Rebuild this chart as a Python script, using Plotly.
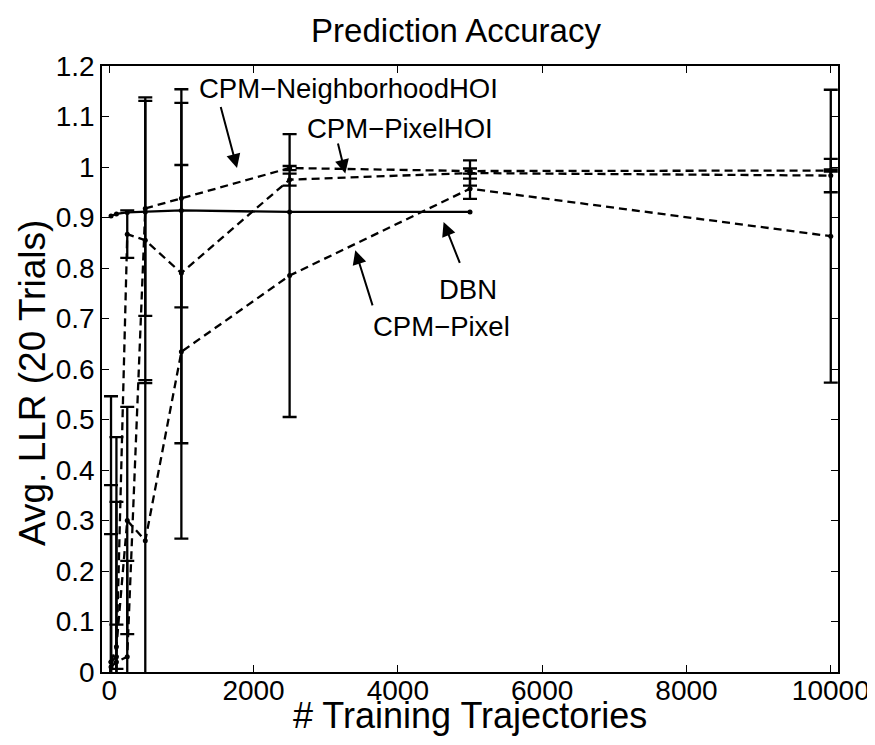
import plotly.graph_objects as go

# ---- data ----
x_pts = [25, 100, 250, 500, 1000, 2500, 5000, 10000]

dbn_x = [25, 100, 250, 500, 1000, 2500, 5000]
dbn_y = [0.903, 0.907, 0.910, 0.911, 0.914, 0.911, 0.911]

nhoi_y = [0.01, 0.02, 0.03, 0.918, 0.938, 0.998, 0.992, 0.993]
nhoi_err = [0.36, 0.317, 0.19, 0.213, 0.216, 0.004, 0.005, 0.002]

phoi_y = [0.02, 0.03, 0.867, 0.855, 0.79, 0.975, 0.988, 0.983]
phoi_err = [0.253, 0.435, 0.047, 0.283, 0.337, 0.012, 0.025, 0.033]

pix_y = [0.02, 0.05, 0.30, 0.26, 0.634, 0.785, 0.957, 0.863]
pix_err = [0.526, 0.044, 0.225, 0.318, 0.37, 0.28, 0.02, 0.29]

x_ticks = [0, 2000, 4000, 6000, 8000, 10000]
x_ticklabels = ["0", "2000", "4000", "6000", "8000", "10000"]
y_ticks = [0, 0.1, 0.2, 0.3, 0.4, 0.5, 0.6, 0.7, 0.8, 0.9, 1.0, 1.1, 1.2]
y_ticklabels = ["0", "0.1", "0.2", "0.3", "0.4", "0.5", "0.6", "0.7", "0.8", "0.9", "1", "1.1", "1.2"]

labels = ["CPM\u2212NeighborhoodHOI", "CPM\u2212PixelHOI", "DBN", "CPM\u2212Pixel"]
label_pos = [(3313, 1.156), (4034, 1.076), (4976, 0.758), (4602, 0.684)]
arrow_tail = [(1540, 1.122), (3165, 1.0495), (4867, 0.807), (3656, 0.723)]
arrow_head = [(1771, 0.998), (3272, 0.987), (4634, 0.891), (3410, 0.835)]

FONT = "Liberation Sans, Arial, Helvetica, sans-serif"

# page body has an 8px default margin: figure is sized/offset to compensate
W, H = 867, 737

fig = go.Figure()

def add_series(xs, ys, errs, dash):
    tr = dict(
        x=xs, y=ys, mode="lines+markers",
        line=dict(color="black", width=2.3, dash=dash),
        marker=dict(color="black", size=5),
        showlegend=False,
    )
    if errs is not None:
        tr["error_y"] = dict(type="data", array=errs, visible=True,
                             color="black", thickness=2.3, width=7)
    fig.add_trace(go.Scatter(**tr))

add_series(x_pts, pix_y, pix_err, "8px,5px")
add_series(x_pts, phoi_y, phoi_err, "8px,5px")
add_series(x_pts, nhoi_y, nhoi_err, "8px,5px")
add_series(dbn_x, dbn_y, None, "solid")

annotations = []
for (tx, ty), (hx, hy) in zip(arrow_tail, arrow_head):
    annotations.append(dict(
        x=hx, y=hy, ax=tx, ay=ty, xref="x", yref="y", axref="x", ayref="y",
        text="", showarrow=True, arrowhead=2, arrowsize=1.4, arrowwidth=2,
        arrowcolor="black", standoff=0, startstandoff=0,
    ))
for txt, (px, py) in zip(labels, label_pos):
    annotations.append(dict(
        x=px, y=py, xref="x", yref="y", text=txt, showarrow=False,
        font=dict(family=FONT, size=27.5, color="black"),
        xanchor="center", yanchor="middle",
    ))
# axis titles
annotations.append(dict(
    x=0.5, y=(672 - 715) / 606, xref="paper", yref="paper",
    text="# Training Trajectories", showarrow=False,
    font=dict(family=FONT, size=36, color="black"),
    xanchor="center", yanchor="middle",
))
annotations.append(dict(
    x=(33 - 102) / 736, y=(672 - 383) / 606, xref="paper", yref="paper",
    text="Avg. LLR (20 Trials)", showarrow=False, textangle=-90,
    font=dict(family=FONT, size=37, color="black"),
    xanchor="center", yanchor="middle",
))

axis_common = dict(
    showline=True, linecolor="black", linewidth=1.5, mirror="ticks",
    ticks="inside", ticklen=7, tickwidth=1, tickcolor="black",
    showgrid=False, zeroline=False, automargin=False,
    tickfont=dict(family=FONT, size=28, color="black"),
)

fig.update_layout(
    width=W, height=H,
    margin=dict(l=94, r=37, t=58, b=73, autoexpand=False),
    plot_bgcolor="white", paper_bgcolor="white",
    font=dict(family=FONT, color="black"),
    title=dict(text="Prediction Accuracy", x=448 / W, xref="container",
               y=1 - 22 / H, yref="container", yanchor="middle", xanchor="center",
               font=dict(family=FONT, size=33, color="black")),
    xaxis=dict(range=[-100, 10100], tickvals=x_ticks, ticktext=x_ticklabels,
               ticklabelstandoff=-7, **axis_common),
    yaxis=dict(range=[0, 1.2], tickvals=y_ticks, ticktext=y_ticklabels,
               **axis_common),
    annotations=annotations,
)

fig.write_html("out.html")
